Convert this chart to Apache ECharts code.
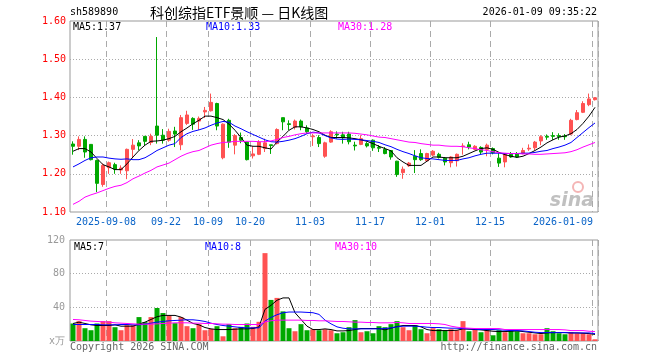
<!DOCTYPE html>
<html><head><meta charset="utf-8">
<script src="https://cdn.jsdelivr.net/npm/echarts@6/dist/echarts.min.js"></script>
<style>html,body{margin:0;padding:0;background:#fff}#c{width:660px;height:360px}</style>
</head><body><div id="c"></div>
<script>
const dates = [
'2025-08-29',
'2025-09-01','2025-09-02','2025-09-03','2025-09-04','2025-09-05',
'2025-09-08','2025-09-09','2025-09-10','2025-09-11','2025-09-12',
'2025-09-15','2025-09-16','2025-09-17','2025-09-18','2025-09-19',
'2025-09-22','2025-09-23','2025-09-24','2025-09-25','2025-09-26',
'2025-09-29','2025-09-30',
'2025-10-09','2025-10-10',
'2025-10-13','2025-10-14','2025-10-15','2025-10-16','2025-10-17',
'2025-10-20','2025-10-21','2025-10-22','2025-10-23','2025-10-24',
'2025-10-27','2025-10-28','2025-10-29','2025-10-30','2025-10-31',
'2025-11-03','2025-11-04','2025-11-05','2025-11-06','2025-11-07',
'2025-11-10','2025-11-11','2025-11-12','2025-11-13','2025-11-14',
'2025-11-17','2025-11-18','2025-11-19','2025-11-20','2025-11-21',
'2025-11-24','2025-11-25','2025-11-26','2025-11-27','2025-11-28',
'2025-12-01','2025-12-02','2025-12-03','2025-12-04','2025-12-05',
'2025-12-08','2025-12-09','2025-12-10','2025-12-11','2025-12-12',
'2025-12-15','2025-12-16','2025-12-17','2025-12-18','2025-12-19',
'2025-12-22','2025-12-23','2025-12-24','2025-12-25','2025-12-26',
'2025-12-29','2025-12-30','2025-12-31',
'2026-01-05','2026-01-06','2026-01-07','2026-01-08','2026-01-09'];

const open = [
1.278,1.272,1.290,1.277,1.235,1.172,1.216,1.224,1.210,1.208,
1.264,1.281,1.298,1.282,1.325,1.301,1.288,1.312,1.276,1.332,
1.345,1.338,1.362,1.365,1.384,1.242,1.340,1.275,1.295,1.283,
1.247,1.251,1.266,1.276,1.279,1.347,1.331,1.322,1.338,1.320,
1.297,1.295,1.246,1.283,1.304,1.302,1.304,1.275,1.277,1.279,
1.288,1.269,1.264,1.261,1.233,1.203,1.221,1.246,1.253,1.234,
1.249,1.251,1.241,1.229,1.234,1.271,1.276,1.264,1.269,1.264,
1.266,1.241,1.231,1.251,1.253,1.253,1.265,1.268,1.286,1.298,
1.300,1.300,1.299,1.304,1.342,1.361,1.381,1.394];
const close = [
1.272,1.290,1.257,1.237,1.175,1.222,1.229,1.212,1.215,1.264,
1.275,1.273,1.285,1.298,1.301,1.288,1.311,1.304,1.347,1.354,
1.330,1.345,1.366,1.387,1.325,1.330,1.283,1.300,1.288,1.237,
1.252,1.283,1.281,1.274,1.316,1.336,1.329,1.338,1.323,1.310,
1.299,1.279,1.281,1.310,1.302,1.294,1.284,1.273,1.292,1.273,
1.268,1.267,1.253,1.244,1.198,1.212,1.228,1.237,1.237,1.253,
1.259,1.243,1.231,1.244,1.251,1.273,1.270,1.272,1.257,1.275,
1.255,1.228,1.251,1.244,1.244,1.261,1.267,1.283,1.297,1.296,
1.298,1.297,1.297,1.340,1.360,1.384,1.396,1.399];
const low = [
1.250,1.262,1.242,1.235,1.152,1.166,1.200,1.200,1.200,1.186,
1.241,1.261,1.275,1.275,1.279,1.279,1.284,1.270,1.262,1.328,
1.315,1.315,1.346,1.363,1.314,1.238,1.268,1.251,1.280,1.235,
1.240,1.249,1.257,1.252,1.277,1.314,1.314,1.316,1.314,1.305,
1.273,1.270,1.242,1.281,1.292,1.279,1.277,1.261,1.275,1.269,
1.260,1.257,1.251,1.237,1.192,1.187,1.218,1.202,1.234,1.232,
1.246,1.240,1.222,1.217,1.219,1.250,1.264,1.262,1.251,1.246,
1.251,1.218,1.217,1.242,1.242,1.251,1.260,1.262,1.275,1.289,
1.289,1.289,1.289,1.301,1.340,1.359,1.377,1.392];
const high = [
1.285,1.298,1.298,1.278,1.237,1.227,1.232,1.229,1.222,1.266,
1.291,1.288,1.299,1.305,1.558,1.317,1.318,1.323,1.354,1.365,
1.348,1.350,1.375,1.410,1.386,1.332,1.344,1.304,1.308,1.284,
1.272,1.288,1.292,1.276,1.319,1.347,1.340,1.342,1.342,1.327,
1.304,1.301,1.284,1.314,1.311,1.310,1.310,1.284,1.301,1.283,
1.290,1.275,1.270,1.262,1.234,1.219,1.231,1.262,1.264,1.255,
1.262,1.255,1.244,1.246,1.253,1.280,1.284,1.275,1.272,1.279,
1.269,1.255,1.253,1.257,1.257,1.268,1.277,1.286,1.301,1.303,
1.309,1.306,1.304,1.344,1.367,1.390,1.410,1.401];

const volume = [
20.8,23.6,15.2,12.8,20.8,23.6,23.6,16.4,12.8,18.8,
18.8,28.4,22.4,28.4,39.2,33.2,30.0,21.2,28.4,17.6,
15.2,20.0,12.8,14.4,17.6,5.6,20.0,15.2,16.8,20.8,
16.8,22.8,104.4,48.8,51.2,35.2,15.2,11.6,20.0,12.8,
14.0,12.8,14.0,12.8,9.2,10.4,16.4,24.8,10.4,11.6,
9.2,17.6,16.4,20.0,23.6,16.4,12.8,18.8,14.0,9.2,
15.2,14.0,12.8,14.0,12.8,23.6,11.6,14.0,10.4,14.0,
6.8,12.8,10.4,12.8,11.6,9.2,9.2,8.0,8.0,15.2,
11.6,9.2,8.0,10.4,9.2,9.2,8.0,2.0];

const ma5 = [
1.259,1.266,1.266,1.257,1.240,1.224,1.218,1.211,1.211,1.226,
1.244,1.261,1.275,1.285,1.286,1.288,1.292,1.298,1.310,1.320,
1.331,1.340,1.351,1.351,1.347,1.342,1.330,1.314,1.295,1.275,
1.272,1.272,1.268,1.265,1.283,1.298,1.314,1.323,1.323,1.320,
1.316,1.310,1.301,1.295,1.295,1.295,1.294,1.292,1.289,1.285,
1.279,1.272,1.266,1.260,1.242,1.231,1.222,1.222,1.222,1.233,
1.244,1.244,1.242,1.242,1.242,1.246,1.253,1.260,1.266,1.268,
1.264,1.256,1.250,1.246,1.243,1.246,1.253,1.261,1.270,1.281,
1.289,1.296,1.299,1.305,1.316,1.332,1.351,1.374];
const ma10 = [
1.218,1.226,1.235,1.242,1.244,1.244,1.241,1.239,1.238,1.239,
1.237,1.237,1.242,1.251,1.261,1.268,1.275,1.279,1.295,1.305,
1.311,1.315,1.320,1.327,1.333,1.337,1.335,1.325,1.318,1.310,
1.303,1.296,1.289,1.284,1.283,1.285,1.288,1.292,1.298,1.305,
1.309,1.307,1.300,1.294,1.291,1.290,1.291,1.290,1.289,1.287,
1.285,1.282,1.276,1.271,1.264,1.258,1.253,1.247,1.242,1.240,
1.239,1.237,1.235,1.235,1.235,1.239,1.242,1.247,1.251,1.254,
1.254,1.254,1.253,1.253,1.253,1.254,1.254,1.256,1.259,1.261,
1.266,1.270,1.275,1.282,1.295,1.308,1.321,1.333];
const ma30 = [
1.120,1.128,1.139,1.145,1.150,1.156,1.162,1.167,1.170,1.177,
1.187,1.194,1.202,1.209,1.218,1.223,1.228,1.237,1.246,1.253,
1.258,1.261,1.268,1.275,1.279,1.282,1.283,1.285,1.285,1.285,
1.285,1.284,1.284,1.286,1.290,1.295,1.298,1.302,1.305,1.307,
1.307,1.307,1.307,1.307,1.307,1.307,1.307,1.306,1.304,1.302,
1.299,1.296,1.295,1.292,1.289,1.286,1.283,1.282,1.279,1.277,
1.275,1.275,1.273,1.272,1.272,1.271,1.268,1.266,1.263,1.261,
1.258,1.255,1.254,1.253,1.253,1.252,1.252,1.251,1.251,1.252,
1.253,1.254,1.255,1.258,1.263,1.270,1.276,1.282];

const vma5 = [
20.8,22.4,20.8,19.2,18.4,18.4,18.4,19.2,17.6,17.6,
17.6,20.0,22.4,25.6,28.8,30.4,30.4,30.4,28.4,24.8,
20.8,19.2,16.0,14.4,13.6,13.6,13.6,14.0,14.4,14.4,
14.8,16.8,37.6,42.4,48.4,51.2,51.2,33.6,25.6,17.6,
13.6,13.6,14.4,13.6,12.0,12.0,12.4,13.6,14.8,14.8,
14.8,14.8,13.2,15.2,17.2,18.4,18.4,18.4,16.8,13.6,
12.4,12.4,12.4,12.4,12.8,14.4,14.0,13.6,13.2,12.4,
11.6,11.2,11.2,11.6,12.0,11.2,10.4,9.6,8.8,9.6,
10.0,10.0,10.0,9.6,9.6,9.2,8.8,7.8];
const vma10 = [
19.6,19.6,19.6,19.6,19.6,19.2,19.2,19.2,19.6,19.6,
19.2,19.2,20.0,21.2,22.4,23.2,24.0,24.4,24.8,25.2,
25.2,24.4,23.2,21.2,19.6,18.4,17.6,16.8,16.0,15.6,
15.6,15.6,23.6,28.0,31.2,33.6,34.4,34.4,34.4,34.0,
33.6,31.6,24.8,20.4,16.8,15.2,14.4,14.4,14.4,14.4,
14.4,14.4,14.8,15.6,16.8,17.6,17.6,17.6,17.2,16.4,
16.0,16.0,15.6,15.2,15.2,14.8,14.4,14.0,13.6,13.6,
13.6,13.2,12.8,12.4,12.4,12.0,11.2,10.4,10.0,10.0,
10.0,10.0,10.0,9.6,9.6,9.6,9.6,8.8];
const vma30 = [
25.6,25.2,24.4,23.6,23.2,22.8,22.4,21.6,21.2,20.8,
20.4,20.0,20.0,20.0,20.4,20.8,21.2,21.6,21.6,21.6,
21.2,21.2,20.8,20.8,20.4,20.0,20.0,19.6,19.6,19.6,
19.6,19.6,22.8,24.0,24.8,24.8,24.8,24.8,24.8,24.4,
24.4,24.0,24.0,23.6,23.2,23.2,22.8,22.4,22.4,22.0,
22.0,21.6,21.6,21.6,22.0,21.6,20.8,20.8,20.8,20.8,
20.8,20.4,19.6,17.6,16.4,15.6,15.2,14.8,14.8,14.8,
14.8,14.8,13.6,13.6,13.6,13.6,13.6,13.6,13.6,13.6,
13.6,13.6,13.2,12.4,12.4,12.4,11.6,11.2];

const tickDates = ['2025-09-08','2025-09-22','2025-10-09','2025-10-20','2025-11-03','2025-11-17','2025-12-01','2025-12-15','2026-01-09'];
const tickLabels = ['2025-09-08','09-22','10-09','10-20','11-03','11-17','12-01','12-15','2026-01-09'];

const UP = '#ff5252', DOWN = '#00a800';
const MONO = 'DejaVu Sans Mono';
const tickIdx = tickDates.map(d => dates.indexOf(d));
const isTick = i => tickIdx.indexOf(i) >= 0;
const candle = dates.map((d, i) => [open[i], close[i], low[i], high[i]]);
const volData = volume.map((v, i) => ({ value: v, itemStyle: { color: close[i] >= open[i] ? UP : DOWN } }));

const chart = echarts.init(document.getElementById('c'), null, { renderer: 'canvas' });
const vsplit = { show: true, interval: (i) => isTick(i), lineStyle: { color: '#aaa', type: [6, 4], width: 1 } };
const hsplit = { show: true, showMinLine: false, showMaxLine: false, lineStyle: { color: '#aaa', type: [1, 2], width: 1 } };
const lineS = (name, data, color, xi) => ({
  name, type: 'line', data, xAxisIndex: xi, yAxisIndex: xi, showSymbol: false, symbol: 'none', silent: true,
  lineStyle: { color, width: 1 }, z: 5
});
const txt = (text, x, y, fill, align, font) => ({
  type: 'text', x: 0, y: 0, silent: true,
  style: { text, x, y, fill, textAlign: align || 'left', textVerticalAlign: 'middle', font: font || ('10px ' + MONO) }
});

chart.setOption({
  animation: false,
  backgroundColor: '#fff',
  grid: [
    { left: 70, top: 21, width: 528, height: 191, show: true, borderColor: '#999', borderWidth: 1 },
    { left: 70, top: 240, width: 528, height: 101, show: true, borderColor: '#999', borderWidth: 1 }
  ],
  xAxis: [
    { type: 'category', gridIndex: 0, data: dates, boundaryGap: true,
      axisLine: { show: false }, axisTick: { show: false },
      axisLabel: { interval: (i) => isTick(i), color: '#0a64c8', fontFamily: MONO, fontSize: 10, margin: 5,
        padding: [0, 6, 0, 0],
        formatter: (v, i) => { const k = tickIdx.indexOf(i); if (k < 0) return ''; return i === dates.length - 1 ? '{last|' + tickLabels[k] + '}' : tickLabels[k]; },
        rich: { last: { color: '#0a64c8', fontFamily: MONO, fontSize: 10, padding: [0, 58, 0, 0] } } },
      splitLine: vsplit },
    { type: 'category', gridIndex: 1, data: dates, boundaryGap: true,
      axisLine: { show: false }, axisTick: { show: false }, axisLabel: { show: false },
      splitLine: vsplit }
  ],
  yAxis: [
    { type: 'value', gridIndex: 0, min: 1.1, max: 1.6, interval: 0.1,
      axisLine: { show: false }, axisTick: { show: false },
      axisLabel: { color: '#ff0000', fontFamily: MONO, fontSize: 10, margin: 4, formatter: v => v.toFixed(2) },
      splitLine: hsplit },
    { type: 'value', gridIndex: 1, min: 0, max: 120, interval: 40,
      axisLine: { show: false }, axisTick: { show: false },
      axisLabel: { color: '#999', fontFamily: MONO, fontSize: 10, margin: 5, formatter: v => v === 0 ? 'x万' : String(v) },
      splitLine: hsplit }
  ],
  series: [
    { type: 'candlestick', xAxisIndex: 0, yAxisIndex: 0, data: candle, barWidth: 4, silent: true,
      itemStyle: { color: UP, color0: DOWN, borderColor: UP, borderColor0: DOWN, borderWidth: 1 } },
    lineS('MA5', ma5, '#000000', 0),
    lineS('MA10', ma10, '#0000ff', 0),
    lineS('MA30', ma30, '#ff00ff', 0),
    { type: 'bar', xAxisIndex: 1, yAxisIndex: 1, data: volData, barWidth: 5, silent: true },
    lineS('VMA5', vma5, '#000000', 1),
    lineS('VMA10', vma10, '#0000ff', 1),
    lineS('VMA30', vma30, '#ff00ff', 1)
  ],
  graphic: [
    txt('sh589890', 70, 12, '#000'),
    txt('科创综指ETF景顺 — 日K线图', 150, 13, '#000', 'left', '14px "Noto Sans CJK SC"'),
    txt('2026-01-09 09:35:22', 597, 12, '#000', 'right'),
    txt('MA5:1.37', 73, 27, '#000'),
    txt('MA10:1.33', 206, 27, '#0000ff'),
    txt('MA30:1.28', 338, 27, '#ff00ff'),
    txt('MA5:7', 74, 247, '#000'),
    txt('MA10:8', 205, 247, '#0000ff'),
    txt('MA30:10', 335, 247, '#ff00ff'),
    txt('Copyright 2026 SINA.COM', 70, 347, '#666'),
    txt('http://finance.sina.com.cn', 597, 347, '#666', 'right'),
    { type: 'circle', silent: true, shape: { cx: 578, cy: 187, r: 5 }, style: { fill: 'none', stroke: 'rgba(230,90,90,0.45)', lineWidth: 2 } },
    txt('sina', 594, 201, 'rgba(140,140,140,0.55)', 'right', 'italic bold 19px "DejaVu Sans"')
  ]
});
</script></body></html>
